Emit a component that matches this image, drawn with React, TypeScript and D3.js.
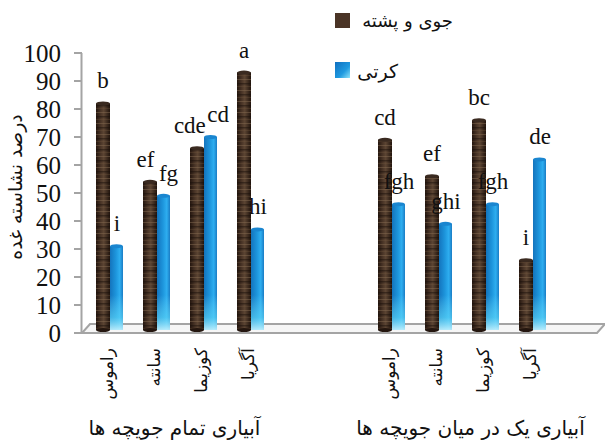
import React from "react";
import * as d3 from "d3";

const cultivars = ["راموس", "سانته", "کوزیما", "آگریا"];
const groups = ["آبیاری تمام جویچه ها", "آبیاری یک در میان جویچه ها"];
const seriesNames = ["جوی و پشته", "کرتی"];
// values per group, per cultivar
const furrowValues = [82, 54, 66, 93, 69, 56, 76, 26];
const basinValues = [31, 49, 70, 37, 46, 39, 46, 62];
const furrowLetters = ["b", "ef", "cde", "a", "cd", "ef", "bc", "i"];
const basinLetters = ["i", "fg", "cd", "hi", "fgh", "ghi", "fgh", "de"];
const yTicks = [0, 10, 20, 30, 40, 50, 60, 70, 80, 90, 100];
const yTitle = "درصد نشاسته غده";

const W = 605;
const H = 443;
const serif = '"Liberation Serif"';
const fa = '"DejaVu Sans"';
const groupLabelDx = [-6, 8];

export default function App() {
  const slots: string[] = [];
  groups.forEach((g, gi) => {
    if (gi > 0) {
      slots.push("gap-a");
      slots.push("gap-b");
    }
    cultivars.forEach((c, ci) => slots.push(`${gi}-${ci}`));
  });
  const x = d3.scaleBand<string>().domain(slots).range([86.5, 556.5]);
  const xs = d3.scaleBand<string>().domain(["f", "b"]).range([9.5, 37.5]);
  const y = d3.scaleLinear().domain([0, 100]).range([333, 53]);
  const base = 330;
  const fs = 23;
  const charW = 10.5;

  type Bar = { key: string; cx: number; v: number; letter: string; kind: string; lx: number };
  const bars: Bar[] = [];
  groups.forEach((g, gi) => {
    cultivars.forEach((c, ci) => {
      const k = `${gi}-${ci}`;
      const i = gi * cultivars.length + ci;
      const f: Bar = { key: k + "f", cx: x(k)! + xs("f")! + xs.bandwidth() / 2, v: furrowValues[i], letter: furrowLetters[i], kind: "f", lx: 0 };
      const b: Bar = { key: k + "b", cx: x(k)! + xs("b")! + xs.bandwidth() / 2, v: basinValues[i], letter: basinLetters[i], kind: "b", lx: 0 };
      f.lx = f.cx;
      b.lx = b.cx;
      // nudge letter labels apart when they would collide
      const fy = y(f.v) - 15;
      const by = y(b.v) - 15;
      if (Math.abs(fy - by) < 17) {
        const need = (f.letter.length + b.letter.length) * charW / 2 + 2;
        const have = b.cx - f.cx;
        if (need > have) {
          const s = (need - have) / 2;
          f.lx -= s;
          b.lx += s;
        }
      }
      bars.push(f, b);
    });
  });

  const bw = 14;

  return (
    <svg width={W} height={H} style={{ position: "absolute", left: 0, top: 0, background: "#fff" }}>
      <defs>
        <linearGradient id="brownH" x1="0" x2="1" y1="0" y2="0">
          <stop offset="0" stopColor="#24160f" />
          <stop offset="0.35" stopColor="#4a3527" />
          <stop offset="0.55" stopColor="#5c4533" />
          <stop offset="1" stopColor="#21140d" />
        </linearGradient>
        <pattern id="stripes" patternUnits="userSpaceOnUse" width="20" height="11">
          <rect x="0" y="2" width="20" height="1" fill="#8a6e55" opacity="0.45" />
          <rect x="0" y="6" width="20" height="1.5" fill="#140b06" opacity="0.45" />
          <rect x="0" y="9" width="20" height="1" fill="#75593f" opacity="0.3" />
        </pattern>
        <linearGradient id="blueH" x1="0" x2="1" y1="0" y2="0">
          <stop offset="0" stopColor="#1474bd" />
          <stop offset="0.45" stopColor="#1d95dc" />
          <stop offset="0.75" stopColor="#2eaef0" />
          <stop offset="1" stopColor="#1a7cc4" />
        </linearGradient>
        <linearGradient id="blueFade" gradientUnits="userSpaceOnUse" x1="0" x2="0" y1="295" y2="332">
          <stop offset="0" stopColor="#7fe6ff" stopOpacity="0" />
          <stop offset="0.6" stopColor="#5fd8f8" stopOpacity="0.6" />
          <stop offset="1" stopColor="#d8f8ff" stopOpacity="0.95" />
        </linearGradient>
        <linearGradient id="legBlue" x1="0" x2="1" y1="0" y2="1">
          <stop offset="0" stopColor="#0f6fc0" />
          <stop offset="0.6" stopColor="#1f9ae0" />
          <stop offset="1" stopColor="#8fe4fa" />
        </linearGradient>
      </defs>

      {/* floor */}
      <polygon points="82,333 90,324 605,324 597,333" fill="#f6f6f6" stroke="#a4a4a4" strokeWidth={2} />

      {/* y axis */}
      <line x1={81.5} x2={81.5} y1={y(100)} y2={y(0)} stroke="#a4a4a4" strokeWidth={2} />
      {yTicks.map((t) => (
        <g key={t}>
          <line x1={74} x2={82} y1={y(t)} y2={y(t)} stroke="#a4a4a4" strokeWidth={2} />
          <text x={61} y={y(t)} dy="0.35em" textAnchor="end" style={{ fontFamily: serif }} fontSize={25} fill="#111">
            {t}
          </text>
        </g>
      ))}

      {/* bars */}
      {bars.map((b) => {
        const top = y(b.v);
        const left = b.cx - bw / 2;
        return (
          <g key={b.key}>
            {b.kind === "f" ? (
              <>
                <rect x={left} y={top} width={bw} height={base - top} fill="url(#brownH)" />
                <rect x={left} y={top} width={bw} height={base - top} fill="url(#stripes)" />
                <ellipse cx={b.cx} cy={top} rx={bw / 2} ry={2} fill="#3a2a20" />
                <ellipse cx={b.cx} cy={base} rx={bw / 2} ry={2} fill="#24160f" />
              </>
            ) : (
              <>
                <rect x={left} y={top} width={bw - 1} height={base - top} fill="url(#blueH)" />
                <rect x={left} y={top} width={bw - 1} height={base - top} fill="url(#blueFade)" />
                <ellipse cx={b.cx - 0.5} cy={top} rx={(bw - 1) / 2} ry={2} fill="#1a86d0" />
              </>
            )}
          </g>
        );
      })}
      {bars.map((b) => (
        <text
          key={b.key + "t"}
          x={b.lx}
          y={y(b.v) - 15}
          textAnchor="middle"
          style={{ fontFamily: serif }}
          fontSize={fs}
          fill="#111"
        >
          {b.letter}
        </text>
      ))}

      {/* category labels */}
      {groups.map((g, gi) =>
        cultivars.map((c, ci) => {
          const k = `${gi}-${ci}`;
          const cx = x(k)! + x.bandwidth() / 2 - 3;
          return (
            <text
              key={k}
              transform={`translate(${cx},348) rotate(-90)`}
              textAnchor="end"
              dy="0.35em"
              style={{ fontFamily: fa }}
              fontSize={17}
              fill="#111"
            >
              {c}
            </text>
          );
        })
      )}

      {/* group labels */}
      {groups.map((g, gi) => {
        const first = x(`${gi}-0`)!;
        const last = x(`${gi}-${cultivars.length - 1}`)! + x.bandwidth();
        return (
          <text
            key={g}
            x={(first + last) / 2 + groupLabelDx[gi]}
            y={435}
            textAnchor="middle"
            style={{ fontFamily: fa }}
            fontSize={20}
            fill="#111"
          >
            {g}
          </text>
        );
      })}

      {/* y title */}
      <text
        transform="translate(15,187) rotate(-90)"
        textAnchor="middle"
        dy="0.35em"
        style={{ fontFamily: fa }}
        fontSize={19}
        fill="#111"
      >
        {yTitle}
      </text>

      {/* legend */}
      <rect x={335} y={13} width={15} height={15} fill="#4a3426" />
      <text x={453} y={21} dy="0.35em" textAnchor="end" style={{ fontFamily: fa }} fontSize={18} fill="#111">
        {seriesNames[0]}
      </text>
      <rect x={335} y={62} width={15} height={16} fill="url(#legBlue)" />
      <text x={398} y={71} dy="0.35em" textAnchor="end" style={{ fontFamily: fa }} fontSize={19} fill="#111">
        {seriesNames[1]}
      </text>
    </svg>
  );
}
